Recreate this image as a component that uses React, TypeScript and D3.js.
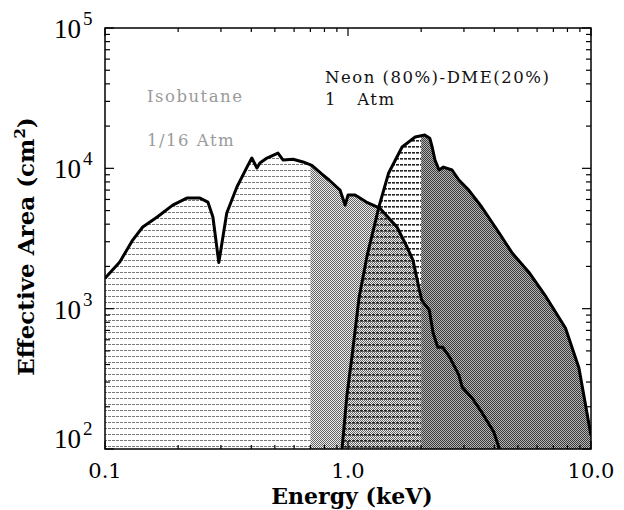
import React from "react";
import * as d3 from "d3";

// isobutane (1/16 atm) effective area
const isoEnergy = [0.1, 0.115, 0.13, 0.143, 0.164, 0.19, 0.217, 0.246, 0.265, 0.278, 0.294, 0.317, 0.349, 0.384, 0.402, 0.422, 0.434, 0.464, 0.515, 0.541, 0.594, 0.653, 0.71, 0.79, 0.836, 0.927, 0.973, 1.0, 1.07, 1.19, 1.35, 1.59, 1.75, 1.85, 1.94, 2.01, 2.16, 2.24, 2.34, 2.45, 2.62, 2.86, 2.95, 3.24, 3.55, 3.98, 4.2];
const isoArea = [1650, 2150, 3080, 3820, 4500, 5470, 6140, 6140, 5750, 4500, 2130, 4800, 7360, 10200, 11840, 10050, 10900, 11840, 12850, 11450, 11600, 11100, 10500, 8960, 8260, 7000, 5470, 6450, 6450, 5750, 5210, 3820, 2750, 2220, 1520, 1150, 977, 670, 532, 532, 452, 336, 276, 231, 183, 132, 100];

// Neon(80%)-DME(20%) 1 atm
const neonEnergy = [0.945, 0.99, 1.04, 1.11, 1.2, 1.34, 1.47, 1.67, 1.89, 2.07, 2.17, 2.22, 2.28, 2.37, 2.47, 2.68, 2.86, 3.14, 3.55, 4.19, 4.74, 5.55, 6.46, 7.85, 8.92, 10];
const neonArea = [100, 242, 467, 1190, 2410, 5300, 9270, 14190, 16730, 17270, 16400, 14190, 11460, 9730, 10200, 9730, 8260, 7000, 5300, 3460, 2490, 1820, 1250, 728, 378, 125];

// shading changes at these energies
const splitEnergies = [0.7, 2.0];

const xTickValues = [0.1, 1, 10];
const xTickLabels = ["0.1", "1.0", "10.0"];
const yExponents = [2, 3, 4, 5];

const W = 624;
const H = 510;
const left = 105, right = 591, top = 28, bottom = 449;

const x = d3.scaleLog().domain([0.1, 10]).range([left, right]);
const y = d3.scaleLog().domain([100, 100000]).range([bottom, top]);

type Pt = { e: number; a: number };
const iso: Pt[] = isoEnergy.map((e, i) => ({ e, a: isoArea[i] }));
const neon: Pt[] = neonEnergy.map((e, i) => ({ e, a: neonArea[i] }));

const area = d3.area<Pt>().x((d) => x(d.e)).y0(y(100)).y1((d) => y(d.a));
const line = d3.line<Pt>().x((d) => x(d.e)).y((d) => y(d.a));

// minor ticks 2..9 in every decade
const minors = (lo: number, hi: number) => {
  const out: number[] = [];
  for (let p = lo; p < hi; p++) {
    for (let k = 2; k <= 9; k++) out.push(k * Math.pow(10, p));
  }
  return out;
};
const xMinor = minors(-1, 1);
const yMinor = minors(2, 5);

const serif = "'DejaVu Serif', serif";

export default function App() {
  const [s1, s2] = splitEnergies;
  return (
    <svg width={W} height={H} style={{ position: "absolute", left: 0, top: 0, background: "#fff" }}>
      <defs>
        <pattern id="hlLight" width="4" height="6" patternUnits="userSpaceOnUse">
          <rect x="0" y="2" width="3" height="1" fill="#7a7a7a" />
        </pattern>
        <pattern id="hlDark" width="4" height="6" patternUnits="userSpaceOnUse">
          <rect x="0" y="2" width="3" height="1.6" fill="#222" />
        </pattern>
        <pattern id="chkMid" width="2" height="2" patternUnits="userSpaceOnUse">
          <rect width="2" height="2" fill="#ececec" />
          <rect x="0" y="0" width="1" height="1" fill="#666" />
          <rect x="1" y="1" width="1" height="1" fill="#666" />
        </pattern>
        <pattern id="chkDark" width="2" height="2" patternUnits="userSpaceOnUse">
          <rect width="2" height="2" fill="#b4b4b4" />
          <rect x="0" y="0" width="1" height="1" fill="#3a3a3a" />
          <rect x="1" y="1" width="1" height="1" fill="#3a3a3a" />
        </pattern>
        <clipPath id="cLow">
          <rect x={x(0.1)} y={top} width={x(s1) - x(0.1)} height={bottom - top} />
        </clipPath>
        <clipPath id="cMid">
          <rect x={x(s1)} y={top} width={x(s2) - x(s1)} height={bottom - top} />
        </clipPath>
        <clipPath id="cBelow2">
          <rect x={x(0.1)} y={top} width={x(s2) - x(0.1)} height={bottom - top} />
        </clipPath>
        <clipPath id="cHigh">
          <rect x={x(s2)} y={top} width={x(10) - x(s2)} height={bottom - top} />
        </clipPath>
        <clipPath id="cPlot">
          <rect x={left} y={top} width={right - left} height={bottom - top} />
        </clipPath>
      </defs>

      {/* shaded areas */}
      <path d={area(iso) ?? ""} fill="url(#hlLight)" clipPath="url(#cLow)" />
      <path d={area(iso) ?? ""} fill="url(#chkMid)" clipPath="url(#cMid)" />
      <path d={area(neon) ?? ""} fill="url(#hlDark)" clipPath="url(#cBelow2)" />
      <path d={area(neon) ?? ""} fill="url(#chkDark)" clipPath="url(#cHigh)" />

      {/* curves */}
      <g clipPath="url(#cPlot)" fill="none" stroke="#000" strokeWidth={3} strokeLinejoin="round">
        <path d={line(iso) ?? ""} />
        <path d={line(neon) ?? ""} />
      </g>

      {/* frame */}
      <rect x={left} y={top} width={right - left} height={bottom - top} fill="none" stroke="#000" strokeWidth={1.5} />

      {/* ticks, inside on all four sides */}
      <g stroke="#000" strokeWidth={1.2}>
        {xMinor.map((v) => (
          <g key={"xm" + v}>
            <line x1={x(v)} x2={x(v)} y1={bottom} y2={bottom - 4} />
            <line x1={x(v)} x2={x(v)} y1={top} y2={top + 4} />
          </g>
        ))}
        {xTickValues.map((v) => (
          <g key={"xM" + v}>
            <line x1={x(v)} x2={x(v)} y1={bottom} y2={bottom - 8} />
            <line x1={x(v)} x2={x(v)} y1={top} y2={top + 8} />
          </g>
        ))}
        {yMinor.map((v) => (
          <g key={"ym" + v}>
            <line x1={left} x2={left + 5} y1={y(v)} y2={y(v)} />
            <line x1={right} x2={right - 5} y1={y(v)} y2={y(v)} />
          </g>
        ))}
        {yExponents.map((p) => (
          <g key={"yM" + p}>
            <line x1={left} x2={left + 9} y1={y(Math.pow(10, p))} y2={y(Math.pow(10, p))} />
            <line x1={right} x2={right - 9} y1={y(Math.pow(10, p))} y2={y(Math.pow(10, p))} />
          </g>
        ))}
      </g>

      {/* x tick labels */}
      {xTickValues.map((v, i) => (
        <text key={"xl" + v} x={x(v)} y={478} textAnchor="middle" fontFamily={serif} fontSize={21}>
          {xTickLabels[i]}
        </text>
      ))}

      {/* y tick labels 10^n */}
      {yExponents.map((p) => {
        const ty = y(Math.pow(10, p));
        const base = Math.min(ty + 10, bottom - 1);
        return (
          <g key={"yl" + p} fontFamily="'Liberation Serif', serif">
            <text x={81} y={base} textAnchor="end" fontSize={27}>10</text>
            <text x={83} y={base - 13} fontSize={19}>{p}</text>
          </g>
        );
      })}

      {/* axis titles */}
      <text x={352} y={504} textAnchor="middle" fontFamily={serif} fontWeight="bold" fontSize={22}>
        Energy (keV)
      </text>
      <text
        transform={`translate(34,${(top + bottom) / 2 + 8}) rotate(-90)`}
        textAnchor="middle"
        fontFamily={serif}
        fontWeight="bold"
        fontSize={23}
      >
        Effective Area (cm<tspan dy={-9} fontSize={15}>2</tspan><tspan dy={9}>)</tspan>
      </text>

      {/* gas labels */}
      <g fontFamily={serif} fontSize={16.5} letterSpacing={1.5}>
        <text x={147} y={102} fill="#9a9a9a">Isobutane</text>
        <text x={147} y={146} fill="#9a9a9a">1/16 Atm</text>
        <text x={325} y={83} fill="#111">Neon (80%)-DME(20%)</text>
        <text x={325} y={105} fill="#111" style={{ whiteSpace: "pre" }}>1   Atm</text>
      </g>
    </svg>
  );
}
